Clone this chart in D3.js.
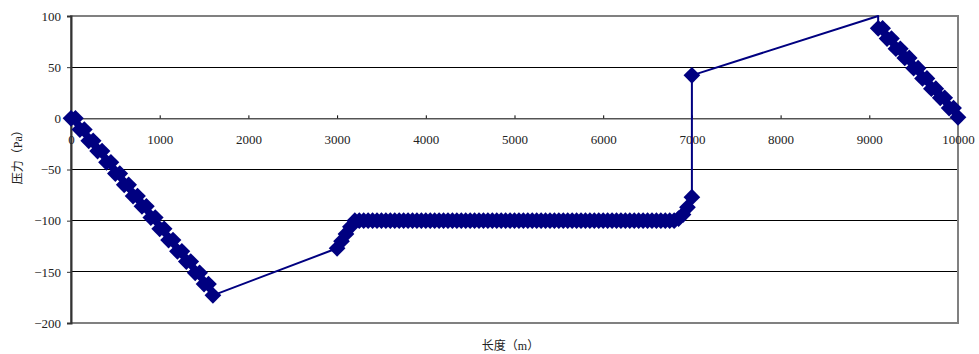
<!DOCTYPE html>
<html>
<head>
<meta charset="utf-8">
<script src="https://cdn.jsdelivr.net/npm/d3@7"></script>
<style>
  html, body { margin: 0; padding: 0; background: #fff; }
  svg text { font-family: "Liberation Serif", "Noto Sans CJK SC", serif; fill: #222; }
</style>
</head>
<body>
<div id="chart"></div>
<script>
// Pressure along pipe length

// falling section, stepped every 100 m
const descentX = [
  0, 50, 100, 150, 200, 250, 300, 350, 400, 450,
  500, 550, 600, 650, 700, 750, 800, 850, 900, 950,
  1000, 1050, 1100, 1150, 1200, 1250, 1300, 1350, 1400, 1450,
  1500, 1550, 1600
];
const descentY = [
  0, 0, -11, -11, -22, -22, -32, -32, -43, -43,
  -54, -54, -65, -65, -76, -76, -86, -86, -97, -97,
  -108, -108, -119, -119, -130, -130, -140, -140, -151, -151,
  -162, -162, -173
];

// plateau section (dense markers)
const plateauX = [
  3000, 3050, 3100, 3150, 3200, 3250, 3300, 3350, 3400, 3450,
  3500, 3550, 3600, 3650, 3700, 3750, 3800, 3850, 3900, 3950,
  4000, 4050, 4100, 4150, 4200, 4250, 4300, 4350, 4400, 4450,
  4500, 4550, 4600, 4650, 4700, 4750, 4800, 4850, 4900, 4950,
  5000, 5050, 5100, 5150, 5200, 5250, 5300, 5350, 5400, 5450,
  5500, 5550, 5600, 5650, 5700, 5750, 5800, 5850, 5900, 5950,
  6000, 6050, 6100, 6150, 6200, 6250, 6300, 6350, 6400, 6450,
  6500, 6550, 6600, 6650, 6700, 6750, 6800, 6850, 6900, 6950,
  7000
];
const plateauY = [
  -127, -120, -113, -106, -100, -100, -100, -100, -100, -100,
  -100, -100, -100, -100, -100, -100, -100, -100, -100, -100,
  -100, -100, -100, -100, -100, -100, -100, -100, -100, -100,
  -100, -100, -100, -100, -100, -100, -100, -100, -100, -100,
  -100, -100, -100, -100, -100, -100, -100, -100, -100, -100,
  -100, -100, -100, -100, -100, -100, -100, -100, -100, -100,
  -100, -100, -100, -100, -100, -100, -100, -100, -100, -100,
  -100, -100, -100, -100, -100, -100, -100, -98, -94, -87,
  -77
];

// jump after 7000 m
const jumpX = [7000];
const jumpY = [42];

// peak point (line only, no marker)
const peakX = [9100];
const peakY = [100];

// final falling section, stepped every 100 m
const tailX = [
  9100, 9150, 9200, 9250, 9300, 9350, 9400, 9450, 9500, 9550,
  9600, 9650, 9700, 9750, 9800, 9850, 9900, 9950, 10000
];
const tailY = [
  88, 88, 78, 78, 68, 68, 59, 59, 49, 49,
  39, 39, 29, 29, 20, 20, 10, 10, 1
];

const xTicks = [0, 1000, 2000, 3000, 4000, 5000, 6000, 7000, 8000, 9000, 10000];
const yTicks = [-200, -150, -100, -50, 0, 50, 100];

const zip = (xs, ys, mark) => xs.map((x, i) => ({ x, y: ys[i], mark }));
const linePts = [
  ...zip(descentX, descentY, true),
  ...zip(plateauX, plateauY, true),
  ...zip(jumpX, jumpY, true),
  ...zip(peakX, peakY, false),
  ...zip(tailX, tailY, true)
];

const width = 979, height = 354;
const margin = { top: 16, right: 21, bottom: 31, left: 71 };
const innerW = width - margin.left - margin.right;
const innerH = height - margin.top - margin.bottom;

const svg = d3.select('#chart').append('svg')
  .attr('width', width)
  .attr('height', height);

const g = svg.append('g')
  .attr('transform', `translate(${margin.left},${margin.top})`);

const x = d3.scaleLinear().domain([0, 10000]).range([0, innerW]);
const y = d3.scaleLinear().domain([-200, 100]).range([innerH, 0]);

// gridlines
g.selectAll('.grid')
  .data(yTicks.filter(d => d !== -200 && d !== 100 && d !== 0))
  .enter().append('line')
  .attr('x1', 0).attr('x2', innerW)
  .attr('y1', d => y(d)).attr('y2', d => y(d))
  .attr('stroke', '#000').attr('stroke-width', 1)
  .attr('shape-rendering', 'crispEdges');

// frame (grey top/right/bottom)
g.append('rect')
  .attr('x', 0).attr('y', 0)
  .attr('width', innerW).attr('height', innerH)
  .attr('fill', 'none')
  .attr('stroke', '#808080').attr('stroke-width', 2);

// y axis
const yAxis = g.append('g')
  .call(d3.axisLeft(y).tickValues(yTicks).tickSize(4).tickPadding(6));
yAxis.select('.domain').attr('stroke', '#333').attr('stroke-width', 2);
yAxis.selectAll('line').attr('stroke', '#333');
yAxis.selectAll('text').attr('font-size', '13px').attr('fill', '#222');

// x axis at zero, ticks pointing up, labels below
const xAxis = g.append('g')
  .attr('transform', `translate(0,${y(0)})`)
  .call(d3.axisBottom(x).tickValues(xTicks).tickSize(-3).tickPadding(0).tickFormat(d3.format('d')));
xAxis.select('.domain').attr('stroke', '#000').attr('stroke-width', 1);
xAxis.selectAll('line').attr('stroke', '#000');
xAxis.selectAll('text')
  .attr('y', 26)
  .attr('dy', 0)
  .attr('font-size', '13px')
  .attr('fill', '#222');

// series line
const line = d3.line().x(d => x(d.x)).y(d => y(d.y));
g.append('path')
  .datum(linePts)
  .attr('d', line)
  .attr('fill', 'none')
  .attr('stroke', '#000080')
  .attr('stroke-width', 2)
  .attr('stroke-linejoin', 'round');

// diamond markers
const diamond = d3.symbol().type(d3.symbolSquare).size(140);
g.selectAll('.marker')
  .data(linePts.filter(d => d.mark))
  .enter().append('path')
  .attr('class', 'marker')
  .attr('d', diamond)
  .attr('transform', d => `translate(${x(d.x)},${y(d.y)}) rotate(45)`)
  .attr('fill', '#000080');

// axis titles
svg.append('text')
  .attr('x', margin.left + innerW / 2 - 4)
  .attr('y', 350)
  .attr('text-anchor', 'middle')
  .attr('font-size', '12px')
  .text('长度（m）');

svg.append('text')
  .attr('transform', `translate(22,${margin.top + y(-35)}) rotate(-90)`)
  .attr('text-anchor', 'middle')
  .attr('font-size', '12px')
  .text('压力（Pa）');
</script>
</body>
</html>
